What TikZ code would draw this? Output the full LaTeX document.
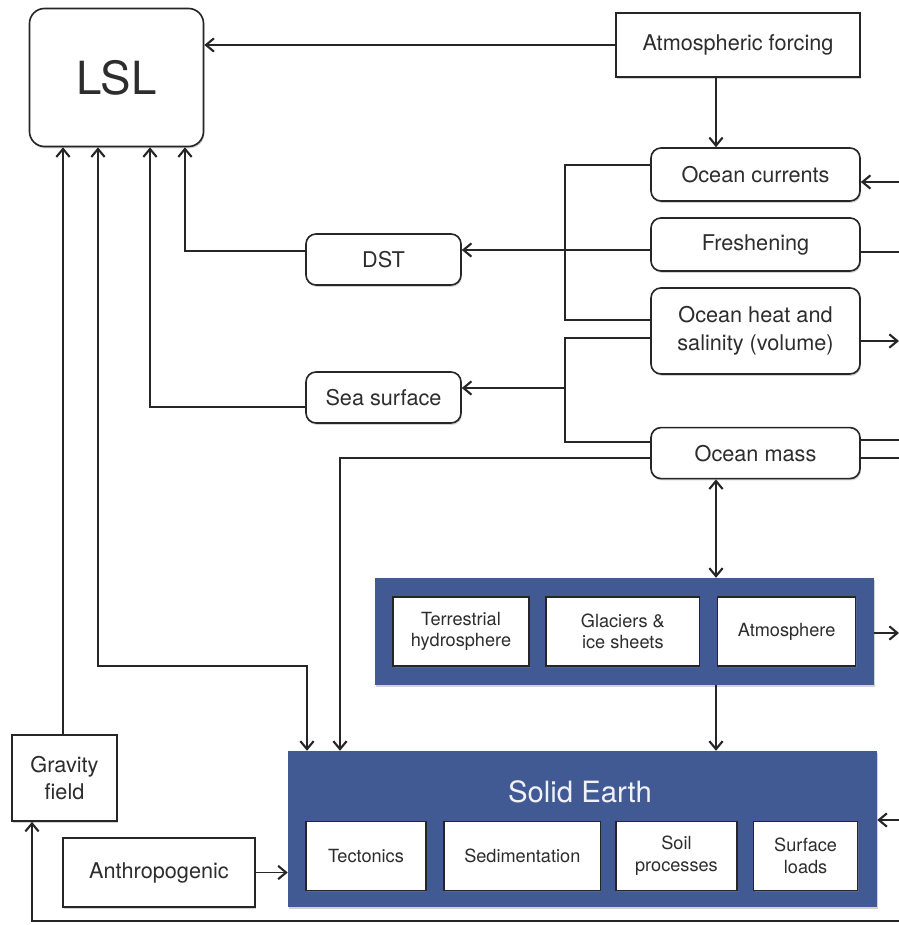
\documentclass[tikz,border=0pt]{standalone}
\usepackage{fontspec}
\setmainfont{TeX Gyre Heros}
\usepackage{xcolor}
\usepackage{tikz}
\usetikzlibrary{arrows.meta, positioning, shadows}

\definecolor{earthblue}{RGB}{66,90,148}
\definecolor{textgray}{RGB}{45,45,45}

\begin{document}
\begin{tikzpicture}[
    x=0.03cm, y=-0.03cm,
    box/.style={rectangle, draw=black!85, line width=1.4pt, fill=white, text=textgray, align=center, inner sep=0pt, font=\fontsize{18.5}{23.5}\selectfont, drop shadow={shadow xshift=0.8pt, shadow yshift=-1.6pt, opacity=0.35}},
    ocean/.style={box, rounded corners=0.3cm, minimum width=6.27cm, minimum height=1.59cm},
    smallbox/.style={box, font=\fontsize{15.5}{18.5}\selectfont, minimum height=2.07cm},
    panel/.style={rectangle, fill=earthblue, inner sep=0pt, drop shadow={shadow xshift=0.8pt, shadow yshift=-1.8pt, opacity=0.35}},
    wire/.style={line width=1.6pt, black!85},
    arrow/.style={wire, -{Straight Barb[length=2.4mm, width=4mm, line width=1.8pt]}},
    biarrow/.style={wire, {Straight Barb[length=2.4mm, width=4mm, line width=1.8pt]}-{Straight Barb[length=2.4mm, width=4mm, line width=1.8pt]}}
]
\useasboundingbox (0,0) rectangle (899,925);

% top: LSL and forcing
\node[box, rounded corners=0.45cm, minimum width=5.22cm, minimum height=4.14cm, font=\fontsize{39}{44}\selectfont] (lsl) at (116.5,77.5) {LSL};
\node[box, minimum width=7.32cm, minimum height=1.92cm, drop shadow={opacity=0}] (forcing) at (738,45) {Atmospheric forcing};

% ocean column
\node[ocean] (currents) at (755.5,174.5) {Ocean currents};
\node[ocean, below=0.46cm of currents] (fresh) {Freshening};
\node[ocean, minimum height=2.58cm, below=0.46cm of fresh] (heat) {Ocean heat and\\salinity (volume)};
\node[ocean, minimum height=1.53cm, below=1.56cm of heat] (mass) {Ocean mass};

\node[ocean, minimum width=4.65cm, minimum height=1.53cm] (dst) at (383.5,259.5) {DST};
\node[ocean, minimum width=4.65cm, minimum height=1.53cm] (sea) at (383.5,397.5) {Sea surface};

% water reservoirs
\node[panel, minimum width=14.97cm, minimum height=3.21cm] (reserv) at (624.5,631.5) {};
\node[smallbox, minimum width=4.08cm, drop shadow={opacity=0}] (terr) at (461,631.5) {Terrestrial\\hydrosphere};
\node[smallbox, minimum width=4.59cm, drop shadow={opacity=0}, right=0.47cm of terr] (glac) {Glaciers \&\\ice sheets};
\node[smallbox, minimum width=4.14cm, drop shadow={opacity=0}, right=0.5cm of glac] (atmo) {Atmosphere};

% solid earth
\node[panel, minimum width=17.67cm, minimum height=4.68cm] (solid) at (582.5,829) {};
\node[text=white!92!earthblue, font=\fontsize{25}{30}\selectfont] (solidtitle) at (580,792) {Solid Earth};
\node[smallbox, minimum width=3.6cm, drop shadow={opacity=0}] (tect) at (366,856) {Tectonics};
\node[smallbox, minimum width=4.68cm, drop shadow={opacity=0}, right=0.5cm of tect] (sed) {Sedimentation};
\node[smallbox, minimum width=3.63cm, drop shadow={opacity=0}, right=0.42cm of sed] (soil) {Soil\\processes};
\node[smallbox, minimum width=3.12cm, drop shadow={opacity=0}, right=0.45cm of soil] (surf) {Surface\\loads};

\node[box, minimum width=5.76cm, minimum height=2.07cm] (anthro) at (159,872.5) {Anthropogenic};
\node[box, minimum width=3.15cm, minimum height=2.58cm] (grav) at (64.5,778) {Gravity\\field};

% helper coordinates
\coordinate (edge) at (899,0);
\coordinate (spine) at (716,0);

% connectors
\draw[arrow] (forcing.west) -- (lsl.east |- forcing.west);
\draw[arrow] (forcing.south -| spine) -- (currents.north -| spine);

\draw[wire] (currents.west |- 0,165) -- (565,165) -- (565,320) -- (heat.west |- 0,320);
\draw[arrow] (fresh.west |- 0,250) -- (dst.east |- 0,250);
\draw[wire] (heat.west |- 0,338) -- (565,338) -- (565,442) -- (mass.west |- 0,442);
\draw[arrow] (565,388) -- (sea.east |- 0,388);
\draw[arrow] (mass.west |- 0,458) -| (solid.north -| 340,0);

\draw[arrow] (edge |- 0,182) -- (currents.east |- 0,182);
\draw[wire] (fresh.east |- 0,252) -- (edge |- 0,252);
\draw[arrow] (heat.east |- 0,341) -- (edge |- 0,341);
\draw[wire] (mass.east |- 0,440) -- (edge |- 0,440);
\draw[wire] (mass.east |- 0,458) -- (edge |- 0,458);
\draw[arrow] (reserv.east |- 0,633) -- (edge |- 0,633);
\draw[arrow] (edge |- 0,820) -- (solid.east |- 0,820);

\draw[biarrow] (mass.south -| spine) -- (reserv.north -| spine);
\draw[arrow] (reserv.south -| spine) -- (solid.north -| spine);

\draw[arrow] (grav.north -| 63,0) -- (lsl.south -| 63,0);
\draw[biarrow] (lsl.south -| 98,0) |- (307,666) -- (solid.north -| 307,0);
\draw[arrow] (sea.west |- 0,407) -| (lsl.south -| 150,0);
\draw[arrow] (dst.west |- 0,251) -| (lsl.south -| 185,0);
\draw[arrow] (anthro.east) -- (solid.west |- anthro.east);
\draw[arrow] (edge |- 0,921) -| (grav.south -| 32,0);

\end{tikzpicture}
\end{document}
